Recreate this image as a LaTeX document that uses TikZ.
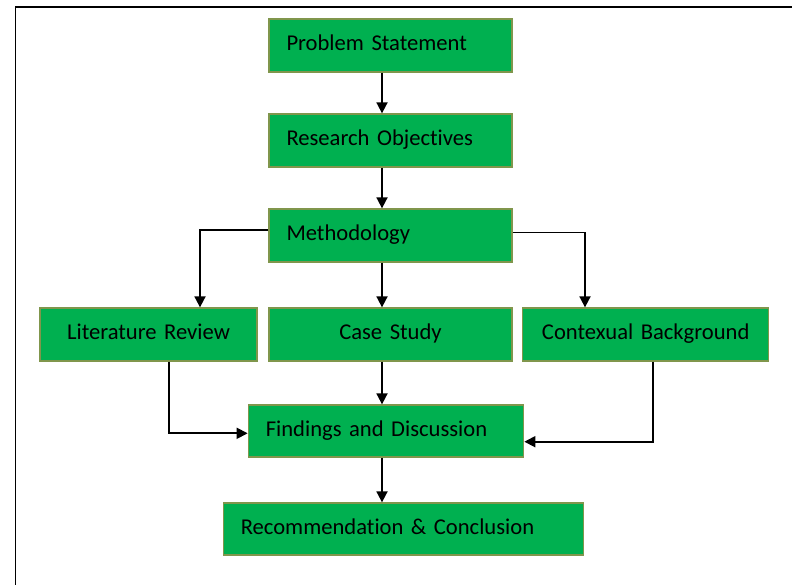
\documentclass[tikz,border=0pt]{standalone}
\usepackage{fontspec}
\setmainfont{Carlito}[Ligatures=NoCommon]
\usetikzlibrary{arrows.meta}
\definecolor{boxgreen}{RGB}{0,176,80}
\definecolor{boxedge}{RGB}{128,150,76}
\begin{document}
\begin{tikzpicture}[x=1pt,y=-1pt,
  box/.style={draw=boxedge, line width=1.3pt, fill=boxgreen, minimum height=53pt,
    inner ysep=0pt, text height=15pt, text depth=5pt,
    font=\fontsize{22.6}{27}\selectfont},
  lbox/.style={box, inner xsep=17.5pt, align=left},
  cbox/.style={box, inner xsep=0pt, align=center},
  conn/.style={line width=1.8pt, -{Triangle[length=11pt,width=11pt]}}]
\useasboundingbox (0,0) rectangle (792,584);
\clip (0,0) rectangle (792,584);
\draw[line width=1.8pt] (15.5,600) -- (15.5,7) -- (800,7);
\coordinate (spine) at (382,0);
\node[lbox, text width=208pt] (ps) at (390.5,45.5) {Problem Statement};
\node[lbox, text width=208pt] (ro) at (390.5,140.5) {Research Objectives};
\node[lbox, text width=208pt] (me) at (390.5,235.5) {Methodology};
\node[cbox, text width=217pt] (lr) at (148.5,334.5) {Literature Review};
\node[cbox, text width=243pt] (cs) at (390.5,334.5) {Case Study};
\node[cbox, text width=246pt] (cb) at (645.7,334.5) {Contexual Background};
\node[lbox, text width=240.4pt, minimum height=52pt] (fd) at (386,431) {Findings and Discussion};
\node[lbox, text width=325pt, minimum height=52pt] (rc) at (403.3,529) {Recommendation \& Conclusion};
\draw[conn] (ps.south -| spine) -- (ro.north -| spine);
\draw[conn] (ro.south -| spine) -- (me.north -| spine);
\draw[conn] (me.south -| spine) -- (cs.north -| spine);
\draw[conn] ([yshift=5.5pt]me.west) -| ([xshift=51.5pt]lr.north);
\draw[conn] ([yshift=3pt]me.east) -| ([xshift=-60.7pt]cb.north);
\draw[conn] ([xshift=20.5pt]lr.south) |- ([yshift=-2.3pt]fd.west);
\draw[conn] (cs.south -| spine) -- (fd.north -| spine);
\draw[conn] ([xshift=7pt]cb.south) |- ([yshift=-10.7pt]fd.east);
\draw[conn] (fd.south -| spine) -- (rc.north -| spine);
\end{tikzpicture}
\end{document}
